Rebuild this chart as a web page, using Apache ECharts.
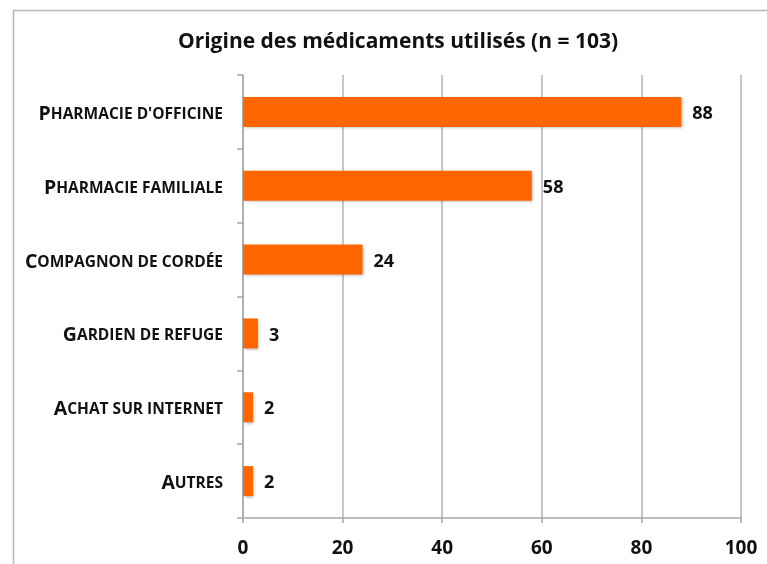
<!DOCTYPE html>
<html>
<head>
<meta charset="utf-8">
<script src="https://cdn.jsdelivr.net/npm/echarts@6/dist/echarts.min.js"></script>
<style>
  html, body { margin: 0; padding: 0; background: #fff; }
  #chart { width: 767px; height: 564px; }
</style>
</head>
<body>
<div id="chart"></div>
<script>
// data, top to bottom
var categories = ["Pharmacie d'officine", 'Pharmacie familiale', 'Compagnon de cordée', 'Gardien de refuge', 'Achat sur internet', 'Autres'];
var values = [88, 58, 24, 3, 2, 2];
var xTicks = [0, 20, 40, 60, 80, 100];

var font = '"Open Sans", "DejaVu Sans", sans-serif';
var chart = echarts.init(document.getElementById('chart'));

// small caps look: first letter big, the rest upper case and smaller
function smallCaps(s) {
    return '{big|' + s.charAt(0).toUpperCase() + '}{small|' + s.slice(1).toUpperCase() + '}';
}

var option = {
    animation: false,
    backgroundColor: '#fff',
    title: {
        text: 'Origine des médicaments utilisés (n = 103)',
        left: 393,
        top: 27,
        textAlign: 'center',
        textStyle: { fontFamily: font, fontWeight: 'bold', fontSize: 21, color: '#111' }
    },
    graphic: [{
        type: 'rect',
        shape: { x: 13.5, y: 10.5, width: 800, height: 600 },
        style: { fill: null, stroke: '#b8b8b8', lineWidth: 1.5 },
        silent: true
    }],
    grid: { left: 243, right: 26, top: 75, bottom: 46 },
    xAxis: {
        type: 'value',
        min: xTicks[0],
        max: xTicks[xTicks.length - 1],
        interval: 20,
        axisLine: { show: true, lineStyle: { color: '#a8a8a8', width: 1.5 } },
        axisTick: { show: true, length: 5, lineStyle: { color: '#a8a8a8', width: 1.5 } },
        splitLine: { show: true, lineStyle: { color: '#b4b4b4', width: 1.5 } },
        axisLabel: { margin: 21, fontFamily: font, fontWeight: 'bold', fontSize: 19, color: '#111' }
    },
    yAxis: {
        type: 'category',
        data: categories,
        inverse: true,
        axisLine: { show: true, lineStyle: { color: '#a8a8a8', width: 1.5 } },
        axisTick: { show: true, length: 6, lineStyle: { color: '#a8a8a8', width: 1.5 } },
        axisLabel: {
            margin: 20,
            padding: [5, 0, 0, 0],
            formatter: smallCaps,
            rich: {
                big: { fontFamily: font, fontWeight: 'bold', fontSize: 19.5, color: '#111' },
                small: { fontFamily: font, fontWeight: 'bold', fontSize: 15.5, color: '#111' }
            }
        }
    },
    series: [{
        type: 'bar',
        data: values,
        barWidth: 30,
        itemStyle: {
            color: '#ff6600',
            shadowColor: 'rgba(0,0,0,0.3)',
            shadowBlur: 3,
            shadowOffsetX: 1.5,
            shadowOffsetY: 1.5
        },
        label: {
            show: true,
            position: 'right',
            distance: 11,
            offset: [0, 2],
            fontFamily: font,
            fontWeight: 'bold',
            fontSize: 18,
            color: '#111'
        }
    }]
};

chart.setOption(option);
</script>
</body>
</html>
